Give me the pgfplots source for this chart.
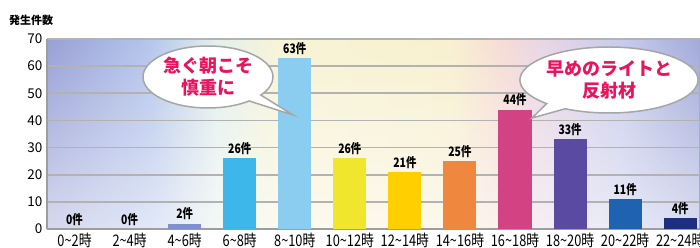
\documentclass[border=0pt]{standalone}
\usepackage{pgfplots}
\pgfplotsset{compat=1.18}
\usepackage{fontspec}
\setmainfont{Noto Sans CJK JP}
\newfontfamily\cond[FakeStretch=0.8]{Noto Sans CJK JP}
\usetikzlibrary{fadings,shapes.callouts}
\definecolor{bgA}{HTML}{98A0D6}
\definecolor{bgB}{HTML}{B6C6EC}
\definecolor{bgC}{HTML}{E4F0EC}
\definecolor{bgD}{HTML}{F8F4D6}
\definecolor{bgE}{HTML}{F8F0D0}
\definecolor{bgF}{HTML}{F6DCD6}
\definecolor{bgG}{HTML}{E8D6E6}
\definecolor{bgH}{HTML}{C8CCEC}
\definecolor{bgI}{HTML}{A2AADA}
\definecolor{b46}{HTML}{7F8FD0}
\definecolor{b68}{HTML}{3DB6EA}
\definecolor{b810}{HTML}{8ACDF0}
\definecolor{b1012}{HTML}{F0E62E}
\definecolor{b1214}{HTML}{FFCF00}
\definecolor{b1416}{HTML}{F0873E}
\definecolor{b1618}{HTML}{D14382}
\definecolor{b1820}{HTML}{5A4AA2}
\definecolor{b2022}{HTML}{1F62B2}
\definecolor{b2224}{HTML}{1E2F82}
\definecolor{pink}{HTML}{E8155E}
\pgfdeclarehorizontalshading{bgshade}{100bp}{color(0bp)=(bgA); color(25bp)=(bgA); color(33bp)=(bgB); color(38bp)=(bgC); color(43bp)=(bgD); color(56bp)=(bgE); color(60bp)=(bgF); color(63bp)=(bgG); color(69bp)=(bgH); color(75bp)=(bgI); color(100bp)=(bgI)}
\begin{document}
\begin{tikzpicture}
\clip (0,0) rectangle (700bp,248bp);
\shade[shading=bgshade] (47bp,19bp) rectangle (700bp,209bp);
\fill[white, path fading=north, fill opacity=0.6] (47bp,19bp) rectangle (700bp,209bp);
\begin{axis}[
  at={(47bp,19bp)}, anchor=south west,
  scale only axis, width=653bp, height=190bp,
  ybar, clip=false,
  xmin=-0.5, xmax=11.36, ymin=0, ymax=70,
  ytick={0,10,...,70},
  xtick={0,...,11},
  xticklabels={0\textasciitilde2時,2\textasciitilde4時,4\textasciitilde6時,6\textasciitilde8時,8\textasciitilde10時,10\textasciitilde12時,12\textasciitilde14時,14\textasciitilde16時,16\textasciitilde18時,18\textasciitilde20時,20\textasciitilde22時,22\textasciitilde24時},
  major tick length=0pt,
  axis lines*=left,
  axis line style={draw=black!38, line width=2.5bp},
  ymajorgrids, major grid style={draw=black!30, line width=1.6bp},
  /pgf/number format/assume math mode=true,
  yticklabel style={font=\fontsize{13.5bp}{13.5bp}\selectfont, xshift=-1bp},
  xticklabel style={font=\fontsize{16bp}{16bp}\selectfont\cond, anchor=north, yshift=-4bp, inner sep=0pt},
  every axis plot/.append style={bar shift=0pt, bar width=0.6, draw=none},
  nodes near coords={\pgfmathprintnumber{\pgfplotspointmeta}件},
  every node near coord/.append style={font=\fontsize{13bp}{13bp}\selectfont\cond\bfseries, text=black},
]
\addplot[fill=b46] coordinates {(0,0)};
\addplot[fill=b46] coordinates {(1,0)};
\addplot[fill=b46] coordinates {(2,2)};
\addplot[fill=b68] coordinates {(3,26)};
\addplot[fill=b810] coordinates {(4,63)};
\addplot[fill=b1012] coordinates {(5,26)};
\addplot[fill=b1214] coordinates {(6,21)};
\addplot[fill=b1416] coordinates {(7,25)};
\addplot[fill=b1618] coordinates {(8,44)};
\addplot[fill=b1820] coordinates {(9,33)};
\addplot[fill=b2022] coordinates {(10,11)};
\addplot[fill=b2224] coordinates {(11,4)};
\end{axis}
\node[font=\fontsize{11bp}{11bp}\selectfont\bfseries, inner sep=0] at (31bp,228bp) {発生件数};
\node[ellipse callout, draw=black!35, line width=1.5bp, fill=white, minimum width=130bp, minimum height=62bp, inner sep=0, callout absolute pointer={(293bp,133bp)}, align=center, text=pink, font=\fontsize{18bp}{22bp}\selectfont\bfseries] at (208bp,171bp) {急ぐ朝こそ\\慎重に};
\node[ellipse callout, draw=black!35, line width=1.5bp, fill=white, minimum width=162bp, minimum height=66bp, inner sep=0, callout absolute pointer={(532bp,130bp)}, align=center, text=pink, font=\fontsize{18bp}{22bp}\selectfont\bfseries] at (609bp,168bp) {早めのライトと\\反射材};
\end{tikzpicture}
\end{document}
